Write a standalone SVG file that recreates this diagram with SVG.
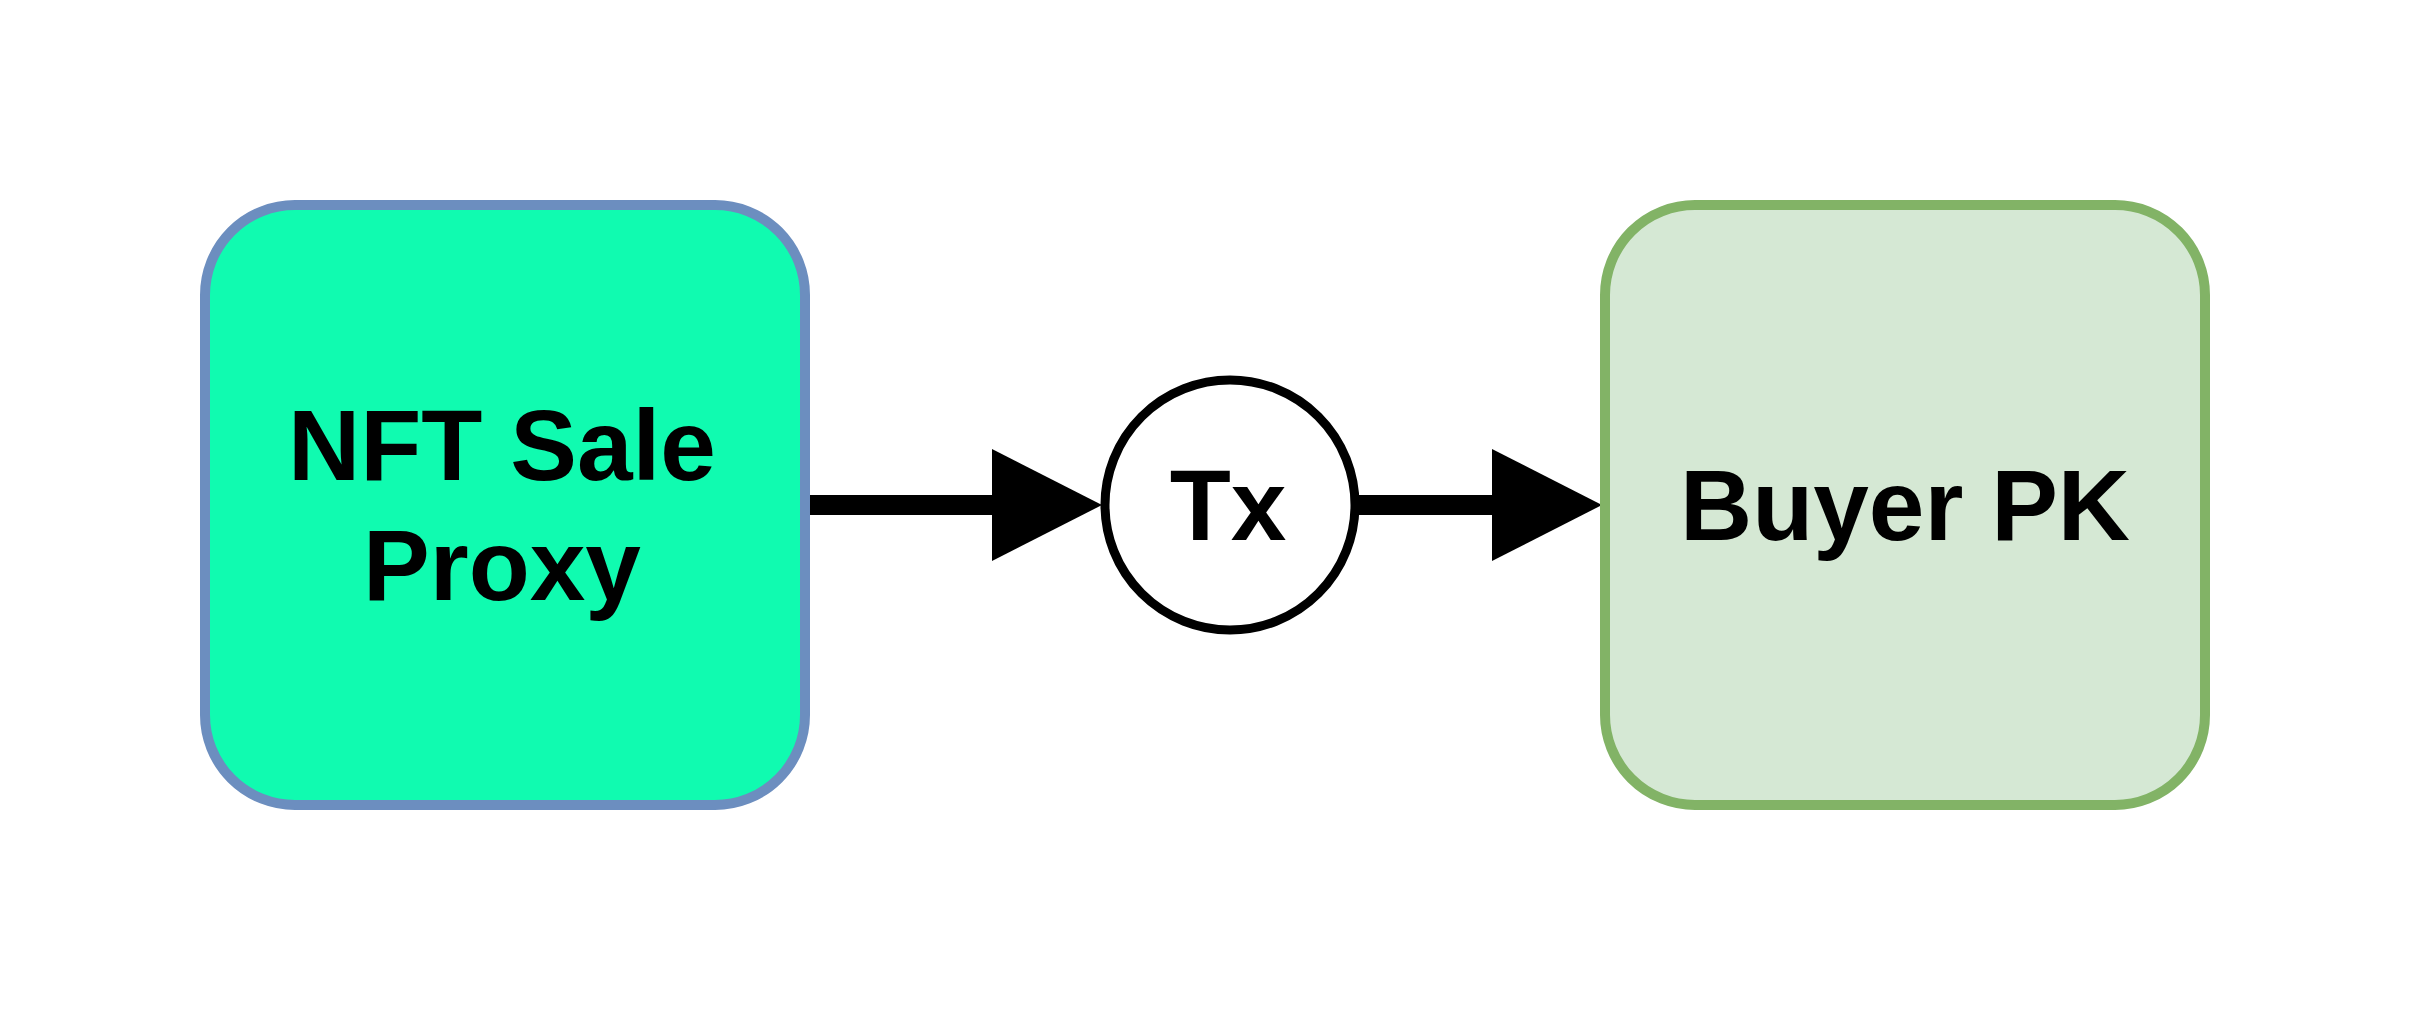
<svg xmlns="http://www.w3.org/2000/svg" width="2420" height="1020" viewBox="0 0 2420 1020">
<style>
.lbl{font-family:"Liberation Sans",Arial,sans-serif;font-weight:bold;font-size:100px;fill:#000;text-anchor:middle}
.box{stroke-width:10}
.edge{stroke:#000;stroke-width:20;fill:none}
</style>
<defs>
<marker id="arr" markerUnits="userSpaceOnUse" markerWidth="112" markerHeight="114" refX="8" refY="57" orient="auto" viewBox="0 0 112 114">
<path d="M0,1 L110,57 L0,113 Z" fill="#000"/>
</marker>
</defs>
<rect width="2420" height="1020" fill="#fff"/>
<g id="connectors">
<line class="edge" x1="806" y1="505" x2="1000" y2="505" marker-end="url(#arr)"/>
<line class="edge" x1="1354" y1="505" x2="1500" y2="505" marker-end="url(#arr)"/>
</g>
<g id="nft-sale-proxy">
<rect class="box" x="205" y="205" width="600" height="600" rx="90" ry="90" fill="#10FBB0" stroke="#6C8EBF"/>
<text class="lbl" x="502" y="480">NFT Sale</text>
<text class="lbl" x="502" y="600">Proxy</text>
</g>
<g id="tx">
<circle cx="1230" cy="505" r="125" fill="#fff" stroke="#000" stroke-width="9"/>
<text class="lbl" x="1228" y="540">Tx</text>
</g>
<g id="buyer-pk">
<rect class="box" x="1605" y="205" width="600" height="600" rx="90" ry="90" fill="#D5E8D4" stroke="#82B366"/>
<text class="lbl" x="1905" y="540">Buyer PK</text>
</g>
</svg>
